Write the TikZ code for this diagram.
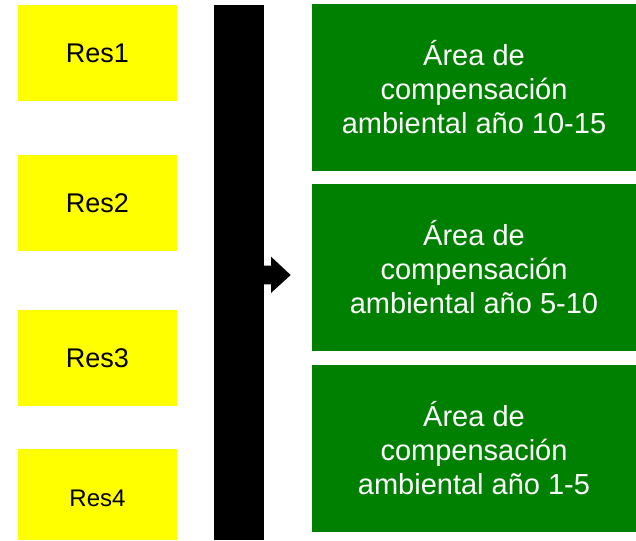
\documentclass[tikz,border=0pt]{standalone}
\usepackage{fontspec}
\setmainfont{Liberation Sans}
\usetikzlibrary{positioning}
\definecolor{resyellow}{RGB}{255,255,0}
\definecolor{areagreen}{RGB}{0,128,0}

\begin{document}
\begin{tikzpicture}[x=1pt,y=1pt,node distance=54pt,
    res/.style={fill=resyellow,minimum width=159pt,minimum height=96pt,inner sep=0pt,outer sep=0pt,font=\fontsize{27}{31}\selectfont},
    area/.style={fill=areagreen,text=white,align=center,minimum width=324pt,minimum height=167pt,inner sep=0pt,outer sep=0pt,font=\fontsize{29}{34}\selectfont}]
   \useasboundingbox (0,0) rectangle (636,540);
   \node[res] (r1) at (97.5,486.5) {Res1};
   \node[res] (r2) [below=of r1] {Res2};
   \node[res] (r3) [below=59pt of r2] {Res3};
   \node[res,minimum height=91pt,text height=24pt,text depth=0pt,font=\fontsize{24}{28}\selectfont] (r4) at (97.5,45.5) {Res4};
   \node[fill=black,minimum width=50pt,minimum height=535pt,inner sep=0pt,outer sep=0pt] (bar) at (239,267.5) {};
   \node[area] (a1) at (474,452.6) {Área de\\compensación\\ambiental año 10-15};
   \node[area] (a2) [below=13pt of a1] {Área de\\compensación\\ambiental año 5-10};
   \node[area] (a3) [below=14pt of a2] {Área de\\compensación\\ambiental año 1-5};
   \fill (bar.east) ++(-1,6.8) -- ++(8,0) -- ++(0,9) -- ++(19.7,-18.3)
      -- ++(-19.7,-18) -- ++(0,8.7) -- ++(-8,0) -- cycle;
\end{tikzpicture}
\end{document}
